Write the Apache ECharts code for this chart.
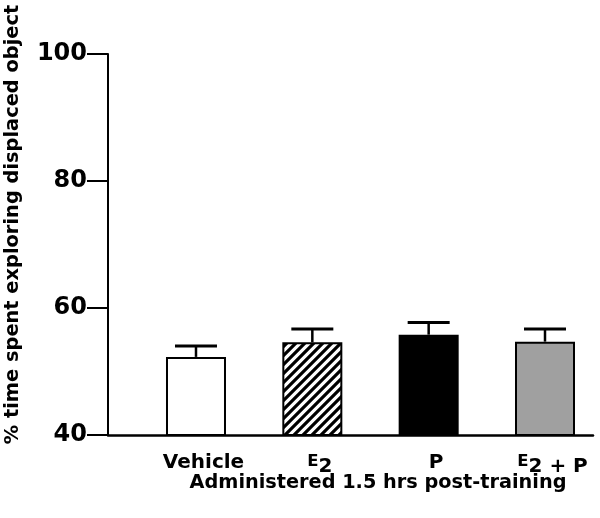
<!DOCTYPE html>
<html>
<head>
<meta charset="utf-8">
<script src="https://cdn.jsdelivr.net/npm/echarts@6/dist/echarts.min.js"></script>
<style>html,body{margin:0;padding:0;background:#fff}#c{width:600px;height:518px}</style>
</head>
<body>
<div id="c"></div>
<script>
var categories = ['Vehicle', 'E2', 'P', 'E2 + P'];
var positions = [1, 2, 3, 4];
var means = [52.3, 54.6, 55.8, 54.7];
var sems = [1.7, 2.1, 1.9, 2.0];
var yTicks = [40, 60, 80, 100];

function makeHatch() {
  var c = document.createElement('canvas');
  c.width = 9; c.height = 9;
  var g = c.getContext('2d');
  g.fillStyle = '#fff'; g.fillRect(0, 0, 9, 9);
  g.strokeStyle = '#000'; g.lineWidth = 3.2;
  g.beginPath();
  g.moveTo(-1, 10); g.lineTo(10, -1);
  g.moveTo(-2, 2); g.lineTo(2, -2);
  g.moveTo(7, 11); g.lineTo(11, 7);
  g.stroke();
  return c;
}
var fills = ['#ffffff', { image: makeHatch(), repeat: 'repeat' }, '#000000', '#a0a0a0'];

var FONT = 'DejaVu Sans';
var chart = echarts.init(document.getElementById('c'), null, { renderer: 'canvas' });

var barData = positions.map(function (p, i) {
  return { value: [p, means[i]], itemStyle: { color: fills[i] } };
});
var errData = positions.map(function (p, i) { return [p, means[i], sems[i]]; });

function labelFor(v) {
  var idx = positions.indexOf(v);
  if (idx < 0) return '';
  var n = categories[idx];
  if (n === 'E2') return '{e|E}{n|2}';
  if (n === 'E2 + P') return '{e|E}{n|2 + P}';
  return '{n|' + n + '}';
}

chart.setOption({
  animation: false,
  backgroundColor: '#fff',
  grid: { left: 108, right: 7, top: 54, bottom: 83, containLabel: false, outerBoundsMode: 'none' },
  xAxis: {
    type: 'value',
    min: 0.2436,
    max: 4.4126,
    splitLine: { show: false },
    axisTick: { show: false },
    axisLine: { show: true, lineStyle: { color: '#000', width: 2.5 } },
    axisLabel: {
      customValues: positions,
      formatter: labelFor,
      margin: 18,
      padding: [0, 0, 0, 15],
      rich: {
        e: { fontFamily: FONT, fontWeight: 'bold', fontSize: 16.5, color: '#000', verticalAlign: 'bottom', padding: [0, 0, 7, 0] },
        n: { fontFamily: FONT, fontWeight: 'bold', fontSize: 20, color: '#000', verticalAlign: 'bottom' }
      }
    },
    name: 'Administered 1.5 hrs post-training',
    nameLocation: 'middle',
    nameGap: 38,
    nameMoveOverlap: false,
    nameTextStyle: { fontFamily: FONT, fontWeight: 'bold', fontSize: 19.3, color: '#000', padding: [0, 0, 0, 55] }
  },
  yAxis: {
    type: 'value',
    min: 40,
    max: 100,
    interval: 20,
    splitLine: { show: false },
    axisLine: { show: true, lineStyle: { color: '#000', width: 2 } },
    axisTick: { show: true, length: 21, lineStyle: { color: '#000', width: 2 } },
    axisLabel: {
      margin: 21,
      fontFamily: FONT, fontWeight: 'bold', fontSize: 24, color: '#000',
      customValues: yTicks
    },
    name: '% time spent exploring displaced object',
    nameLocation: 'middle',
    nameGap: 86,
    nameMoveOverlap: false,
    nameTextStyle: { fontFamily: FONT, fontWeight: 'bold', fontSize: 19.4, color: '#000', padding: [0, 0, 0, 40] }
  },
  series: [
    {
      type: 'bar',
      data: barData,
      barWidth: 60,
      itemStyle: { borderColor: '#000', borderWidth: 2 }
    },
    {
      type: 'custom',
      data: errData,
      z: 3,
      renderItem: function (params, api) {
        var x = api.value(0), m = api.value(1), e = api.value(2);
        var base = api.coord([x, m]);
        var top = api.coord([x, m + e]);
        var half = 21;
        return {
          type: 'group',
          children: [
            { type: 'line', shape: { x1: base[0], y1: base[1], x2: top[0], y2: top[1] }, style: { stroke: '#000', lineWidth: 2.5 } },
            { type: 'line', shape: { x1: top[0] - half, y1: top[1], x2: top[0] + half, y2: top[1] }, style: { stroke: '#000', lineWidth: 3 } }
          ]
        };
      }
    }
  ]
});
</script>
</body>
</html>
